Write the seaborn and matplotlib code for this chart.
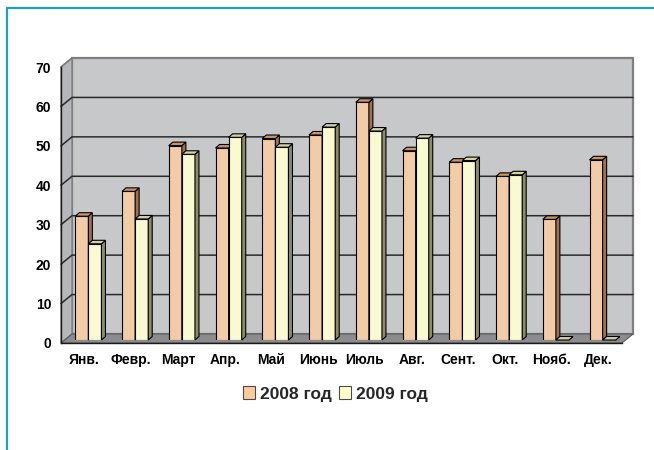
import matplotlib
matplotlib.use("Agg")
import matplotlib.pyplot as plt
from matplotlib.patches import Polygon, Rectangle, Patch
from matplotlib.lines import Line2D
import seaborn as sns
import pandas as pd

months = ['Янв.', 'Февр.', 'Март', 'Апр.', 'Май', 'Июнь',
          'Июль', 'Авг.', 'Сент.', 'Окт.', 'Нояб.', 'Дек.']
values_2008 = [31.4, 37.7, 49.3, 48.7, 51.1, 52.0, 60.3, 48.0, 45.1, 41.5, 30.6, 45.7]
values_2009 = [24.4, 30.7, 47.1, 51.4, 48.9, 54.0, 53.0, 51.2, 45.5, 41.9, 0.0, 0.0]
series_labels = ['2008 год', '2009 год']
y_ticks = [0, 10, 20, 30, 40, 50, 60, 70]

front_colors = ['#FFCC99', '#FFFFCC']
side_colors = ['#9C7050', '#8C8C68']
top_colors = ['#C8946A', '#D2D2A4']

df = pd.DataFrame({
    'month': months * 2,
    'value': values_2008 + values_2009,
    'year': [series_labels[0]] * 12 + [series_labels[1]] * 12,
})

sns.set_theme(style='white')
plt.rcParams['font.family'] = ['Liberation Sans', 'DejaVu Sans']

W, H = 654, 450
fig = plt.figure(figsize=(W / 100, H / 100), dpi=100)
fig.patch.set_facecolor('white')

# pixel geometry of the front plane of the 3D box
fx0, fx1 = 61, 622
fy0, fy70 = 343, 67
pw, ph = fx1 - fx0, fy0 - fy70
# bars sit a little behind the front plane
bar_off = (4, 3)
ax = fig.add_axes([(fx0 + bar_off[0]) / W, (H - fy0 + bar_off[1]) / H, pw / W, ph / H])
ax.set_facecolor('none')

sns.barplot(data=df, x='month', y='value', hue='year', order=months,
            hue_order=series_labels, palette=front_colors, width=0.56,
            gap=0, dodge=True, edgecolor='black', linewidth=0.8,
            legend=False, ax=ax)
ax.set_xlim(-0.5, 11.5)
ax.set_ylim(0, 70)
ax.set_axis_off()

px_x = 12 / pw
px_y = 70 / ph
# offsets (in data units) of the front plane and of the back wall relative to the bar plane
fdx, fdy = -bar_off[0] * px_x, -bar_off[1] * px_y
bdx, bdy = 7 * px_x, 6 * px_y
# depth of each bar
ddx, ddy = 4 * px_x, 3.5 * px_y

wall_kw = dict(clip_on=False, zorder=0.5)
# back wall
ax.add_patch(Rectangle((-0.5 + bdx, bdy), 12, 70, facecolor='#C7C8CA',
                       edgecolor='#7F7F7F', linewidth=1.6, **wall_kw))
# left side wall
ax.add_patch(Polygon([(-0.5 + fdx, fdy), (-0.5 + fdx, 70 + fdy),
                      (-0.5 + bdx, 70 + bdy), (-0.5 + bdx, bdy)],
                     closed=True, facecolor='#B6B7BB', edgecolor='#7F7F7F',
                     linewidth=1.0, **wall_kw))
# floor
ax.add_patch(Polygon([(-0.5 + fdx, fdy), (11.5 + fdx, fdy),
                      (11.5 + bdx, bdy), (-0.5 + bdx, bdy)],
                     closed=True, facecolor='#8C8C8E', edgecolor='#5A5A5A',
                     linewidth=0.8, **wall_kw))
# gridlines on side wall and back wall
for v in y_ticks[1:-1]:
    ax.plot([-0.5 + fdx, -0.5 + bdx, 11.5 + bdx], [v + fdy, v + bdy, v + bdy],
            color='#2A2A2A', linewidth=1.1, clip_on=False, zorder=0.6)
ax.plot([-0.5 + fdx, -0.5 + bdx], [70 + fdy, 70 + bdy], color='#7F7F7F',
        linewidth=1.2, clip_on=False, zorder=0.6)

# 3D faces for each bar
for k, container in enumerate(ax.containers):
    z = 3 + k
    for bar in container:
        x0, w, h = bar.get_x(), bar.get_width(), bar.get_height()
        bar.set_zorder(z)
        side = Polygon([(x0 + w, 0), (x0 + w + ddx, ddy), (x0 + w + ddx, h + ddy), (x0 + w, h)],
                       closed=True, facecolor=side_colors[k], edgecolor='black',
                       linewidth=0.8, zorder=z, clip_on=False)
        top = Polygon([(x0, h), (x0 + ddx, h + ddy), (x0 + w + ddx, h + ddy), (x0 + w, h)],
                      closed=True, facecolor=top_colors[k], edgecolor='black',
                      linewidth=0.8, zorder=z, clip_on=False)
        ax.add_patch(side)
        ax.add_patch(top)

# front plane axes: axis lines, ticks and labels
fa = fig.add_axes([fx0 / W, (H - fy0) / H, pw / W, ph / H])
fa.set_facecolor('none')
fa.set_xlim(-0.5, 11.5)
fa.set_ylim(0, 70)
for s in ['top', 'right']:
    fa.spines[s].set_visible(False)
for s in ['left', 'bottom']:
    fa.spines[s].set_color('#1A1A1A')
    fa.spines[s].set_linewidth(1.0)
fa.set_yticks(y_ticks)
fa.set_yticklabels([str(v) for v in y_ticks], fontsize=10, fontweight='bold')
fa.set_xticks([i - 0.5 for i in range(13)])
fa.set_xticklabels([])
fa.set_xticks(range(12), minor=True)
fa.set_xticklabels(months, minor=True, fontsize=10, fontweight='bold', va='baseline')
fa.tick_params(axis='y', direction='out', length=4, width=1, color='#1A1A1A', pad=3)
fa.tick_params(axis='x', which='major', direction='out', length=5, width=1, color='#1A1A1A')
fa.tick_params(axis='x', which='minor', length=0, pad=15)
for lbl in fa.get_yticklabels() + fa.get_xticklabels(minor=True):
    lbl.set_color('black')

# legend
handles = [Patch(facecolor=c, edgecolor='#4A4A4A', linewidth=0.8) for c in front_colors]
fig.legend(handles, series_labels, loc='center', bbox_to_anchor=(335.5 / W, 1 - 394 / H),
           ncol=2, frameon=False, handlelength=0.7, handleheight=0.7,
           handletextpad=0.3, columnspacing=0.4,
           prop={'weight': 'bold', 'size': 12.5, 'family': ['Liberation Sans', 'DejaVu Sans']})

# outer frame lines
fig.add_artist(Line2D([7 / W, 7 / W], [0, 1 - 8 / H], color='#1CA0C4', linewidth=1.6))
fig.add_artist(Line2D([7 / W, 1], [1 - 8 / H, 1 - 8 / H], color='#1CA0C4', linewidth=1.6))

fig.savefig('out.png', dpi=100)
